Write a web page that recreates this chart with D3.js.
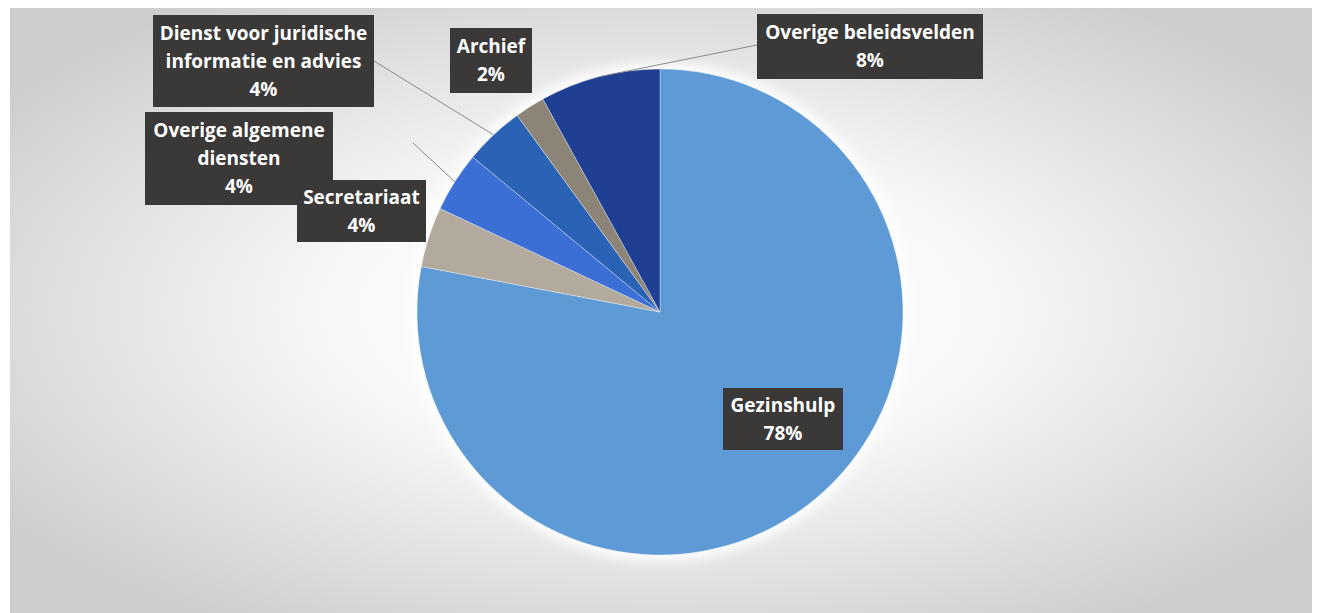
<!DOCTYPE html>
<html>
<head>
<meta charset="utf-8">
<script src="https://cdn.jsdelivr.net/npm/d3@7"></script>
<style>
  html, body { margin: 0; padding: 0; background: #fff; }
  .label { font-family: "Open Sans", sans-serif; font-weight: bold; font-size: 19px; fill: #fff; }
</style>
</head>
<body>
<svg id="chart" width="1321" height="613"></svg>
<script>
// ---------- data (clockwise from 12 o'clock)

const CATEGORIES = [
  "Gezinshulp",
  "Secretariaat",
  "Overige algemene diensten",
  "Dienst voor juridische informatie en advies",
  "Archief",
  "Overige beleidsvelden",
];
const PERCENTAGES = [78, 4, 4, 4, 2, 8];

// how each label is broken into lines
const LABEL_LINES = [
  ["Gezinshulp"],
  ["Secretariaat"],
  ["Overige algemene", "diensten"],
  ["Dienst voor juridische", "informatie en advies"],
  ["Archief"],
  ["Overige beleidsvelden"],
];

const SLICE_COLORS = ["#5d9ad6", "#b3aa9e", "#3b6fd6", "#2a62b6", "#8c8476", "#1f3f93"];

// ---------- layout

const WIDTH = 1321;
const HEIGHT = 613;
const CX = 660;
const CY = 312;
const RADIUS = 243;
const LINE_HEIGHT = 28;

// label box placement: [box left, box top, box width, box height]
const LABEL_BOXES = [
  [723, 388, 120, 62],
  [297, 180, 129, 62],
  [145, 112, 188, 93],
  [153, 15, 221, 92],
  [450, 28, 82, 65],
  [757, 14, 226, 65],
];
// draw order so Secretariaat sits over the box next to it
const DRAW_ORDER = [0, 2, 3, 4, 5, 1];

// leader lines: from label side to slice edge (only where the reference draws one)
const LEADER_FROM = [null, null, [413, 143], [374, 61], null, [757, 45]];

const svg = d3.select("#chart");

// background: soft radial gradient inside a thin white frame
const defs = svg.append("defs");
const grad = defs.append("radialGradient").attr("id", "bg").attr("cx", "50%").attr("cy", "50%").attr("r", "62%");
grad.append("stop").attr("offset", "0%").attr("stop-color", "#ffffff");
grad.append("stop").attr("offset", "40%").attr("stop-color", "#f8f8f8");
grad.append("stop").attr("offset", "100%").attr("stop-color", "#cdcdcd");

const glow = defs.append("filter").attr("id", "glow").attr("x", "-20%").attr("y", "-20%").attr("width", "140%").attr("height", "140%");
glow.append("feGaussianBlur").attr("stdDeviation", 6);

svg.append("rect").attr("width", WIDTH).attr("height", HEIGHT).attr("fill", "#ffffff");
svg.append("rect")
  .attr("x", 10).attr("y", 8)
  .attr("width", WIDTH - 19).attr("height", HEIGHT - 8)
  .attr("fill", "url(#bg)");

const pie = d3.pie().sort(null).value(d => d);
const arcs = pie(PERCENTAGES);
const arc = d3.arc().innerRadius(0).outerRadius(RADIUS);

const g = svg.append("g").attr("transform", `translate(${CX},${CY})`);

// faint white halo round the pie
g.append("circle").attr("r", RADIUS + 6).attr("fill", "#ffffff").attr("filter", "url(#glow)");

g.selectAll("path.slice")
  .data(arcs)
  .enter()
  .append("path")
  .attr("class", "slice")
  .attr("d", arc)
  .attr("fill", (d, i) => SLICE_COLORS[i])
  .attr("stroke", "rgba(255,255,255,0.35)")
  .attr("stroke-width", 1);

// leader lines
const edgeArc = d3.arc().innerRadius(RADIUS).outerRadius(RADIUS);
arcs.forEach((d, i) => {
  const from = LEADER_FROM[i];
  if (!from) return;
  const [ex, ey] = edgeArc.centroid(d);
  svg.append("line")
    .attr("x1", from[0]).attr("y1", from[1])
    .attr("x2", CX + ex).attr("y2", CY + ey)
    .attr("stroke", "#8a8a8a")
    .attr("stroke-width", 1);
});

// label boxes
const labels = svg.append("g");
DRAW_ORDER.forEach(i => {
  const d = arcs[i];
  const [bx, by, bw, bh] = LABEL_BOXES[i];
  const lg = labels.append("g");
  lg.append("rect")
    .attr("x", bx).attr("y", by)
    .attr("width", bw).attr("height", bh)
    .attr("fill", "#3a3938");
  const lines = LABEL_LINES[i].concat([d3.format(".0f")(d.data) + "%"]);
  const top = by + bh / 2 - (lines.length - 1) * LINE_HEIGHT / 2;
  lines.forEach((t, j) => {
    lg.append("text")
      .attr("class", "label")
      .attr("x", bx + bw / 2)
      .attr("y", top + j * LINE_HEIGHT)
      .attr("dy", "0.35em")
      .attr("text-anchor", "middle")
      .text(t);
  });
});
</script>
</body>
</html>
